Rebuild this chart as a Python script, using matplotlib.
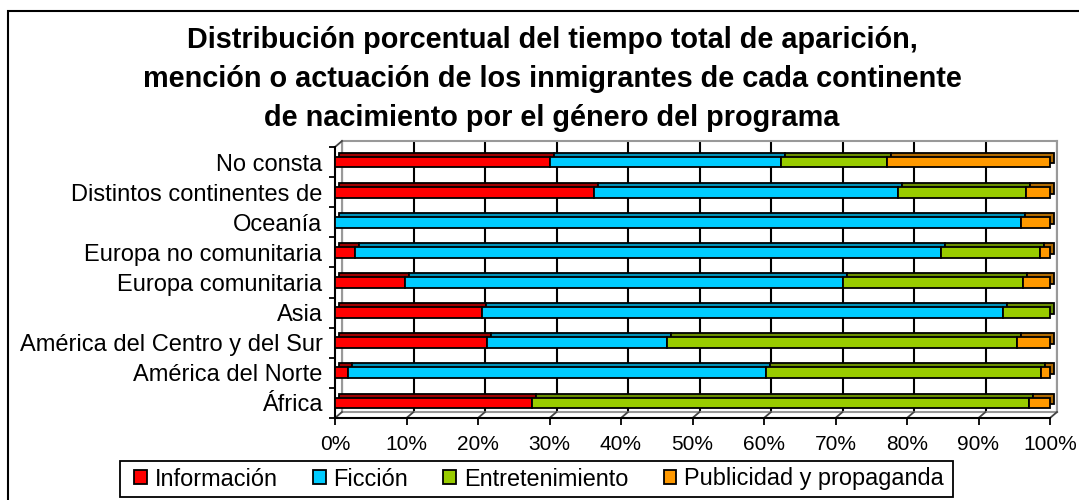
import numpy as np
import matplotlib
matplotlib.use("Agg")
import matplotlib.pyplot as plt
import matplotlib.transforms as mtransforms
from matplotlib.patches import Rectangle, Patch
from matplotlib.lines import Line2D

plt.rcParams["font.family"] = ["Liberation Sans", "DejaVu Sans"]

# categories bottom -> top
categories = [
    "África",
    "América del Norte",
    "América del Centro y del Sur",
    "Asia",
    "Europa comunitaria",
    "Europa no comunitaria",
    "Oceanía",
    "Distintos continentes de",
    "No consta",
]
series_names = ["Información", "Ficción", "Entretenimiento", "Publicidad y propaganda"]
informacion = [27.5, 1.8, 21.3, 20.5, 9.8, 2.8, 0.0, 36.2, 30.0]
ficcion = [0.0, 58.5, 25.2, 72.9, 61.3, 81.9, 96.0, 42.6, 32.4]
entretenimiento = [69.6, 38.5, 48.9, 6.6, 25.1, 13.9, 0.0, 17.9, 14.8]
publicidad = [2.9, 1.2, 4.6, 0.0, 3.8, 1.4, 4.0, 3.3, 22.8]
x_ticks = list(range(0, 101, 10))

front_colors = ["#FF0000", "#00CCFF", "#99CC00", "#FF9900"]
top_colors = ["#A00000", "#0090B8", "#6A8E00", "#B06A00"]

W, H = 1079, 500
WALL_DX, WALL_DY = 7, 6

fig = plt.figure(figsize=(W / 100, H / 100), dpi=100)
rect = [335 / W, 82 / H, 715 / W, 271 / H]

# back wall: a second axes shifted up/right, carries the gridlines
wall_ax = fig.add_axes([rect[0] + WALL_DX / W, rect[1] + WALL_DY / H, rect[2], rect[3]],
                       zorder=0)
wall_ax.set_xlim(0, 100)
wall_ax.set_xticks(x_ticks)
wall_ax.set_yticks([])
wall_ax.tick_params(axis="x", length=0, labelbottom=False)
wall_ax.grid(axis="x", color="black", lw=1.5)
for s in wall_ax.spines.values():
    s.set_color("#999999")
    s.set_linewidth(1.5)

ax = fig.add_axes(rect, zorder=1)
ax.patch.set_visible(False)
ax.set_xlim(0, 100)
ax.set_ylim(-0.5, len(categories) - 0.5)

ypos = np.arange(len(categories))
depth = mtransforms.offset_copy(ax.transData, fig=fig, x=4, y=4, units="dots")

data = [informacion, ficcion, entretenimiento, publicidad]
left = np.zeros(len(categories))
for vals, fc, tc in zip(data, front_colors, top_colors):
    vals = np.array(vals)
    mask = vals > 0
    ax.barh(ypos[mask], vals[mask], left=left[mask], height=0.36, color=tc,
            edgecolor="black", lw=1.3, transform=depth, zorder=2, clip_on=False)
    ax.barh(ypos[mask], vals[mask], left=left[mask], height=0.36, color=fc,
            edgecolor="black", lw=1.3, zorder=3, clip_on=False)
    left += vals

# floor diagonals joining the front axis to the back wall
for xv in x_ticks:
    p0 = ax.transData.transform((xv, -0.5))
    fig.add_artist(Line2D([p0[0], p0[0] + WALL_DX], [p0[1], p0[1] + WALL_DY],
                          transform=mtransforms.IdentityTransform(),
                          color="#444444", lw=1.3, zorder=0.5))
p0 = ax.transData.transform((0, len(categories) - 0.5))
fig.add_artist(Line2D([p0[0], p0[0] + WALL_DX], [p0[1], p0[1] + WALL_DY],
                      transform=mtransforms.IdentityTransform(),
                      color="#444444", lw=1.3, zorder=0.5))

ax.spines[["top", "right"]].set_visible(False)
ax.spines["left"].set_linewidth(1.5)
ax.spines["bottom"].set_linewidth(1.5)

ax.set_xticks(x_ticks)
ax.set_xticklabels([f"{v}%" for v in x_ticks], fontsize=15)
ax.tick_params(axis="x", length=5, width=1.3, pad=7)

ax.set_yticks(np.arange(-0.5, len(categories), 1.0))
ax.set_yticklabels([])
ax.tick_params(axis="y", which="major", length=4, width=1.3)
ax.set_yticks(ypos, minor=True)
ax.set_yticklabels(categories, minor=True, fontsize=17)
ax.tick_params(axis="y", which="minor", length=0, pad=9)

fig.text(552 / W, 421 / H,
         "Distribución porcentual del tiempo total de aparición,\n"
         "mención o actuación de los inmigrantes de cada continente\n"
         "de nacimiento por el género del programa",
         ha="center", va="center", fontsize=20.8, fontweight="bold",
         linespacing=1.5)

handles = [Patch(facecolor=c, edgecolor="black", lw=1.3) for c in front_colors]
fig.legend(handles, series_names, loc="center",
           bbox_to_anchor=(539 / W, 21 / H), ncol=4, fontsize=16.9,
           frameon=False, handlelength=0.55, handleheight=0.55,
           handletextpad=0.34, columnspacing=1.49, borderpad=0,
           borderaxespad=0)
# legend frame
fig.add_artist(Rectangle((120 / W, 3 / H), 833 / W, 36 / H,
                         transform=fig.transFigure, fill=False,
                         edgecolor="black", lw=1.3))

# outer chart border (runs off the right and bottom edges)
fig.add_artist(Rectangle((8 / W, -0.05), 1.1, 0.978 + 0.05,
                         transform=fig.transFigure, fill=False,
                         edgecolor="black", lw=1.5))

fig.savefig("out.png", dpi=100)
